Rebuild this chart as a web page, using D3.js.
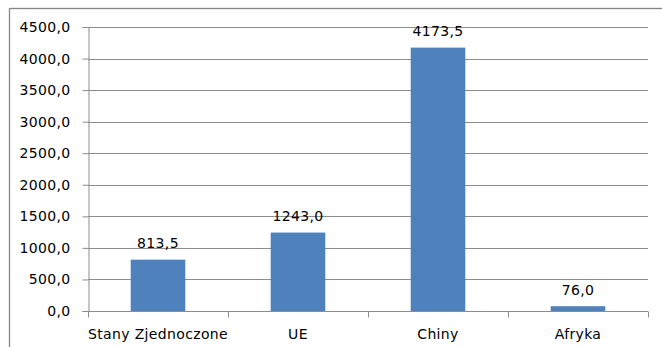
<!DOCTYPE html>
<html>
<head>
<meta charset="utf-8">
<script src="https://cdn.jsdelivr.net/npm/d3@7"></script>
<style>
  html, body { margin: 0; padding: 0; background: #fff; }
  svg { display: block; }
  text { font-family: "DejaVu Sans", Verdana, sans-serif; fill: #000; letter-spacing: 0.35px; }
</style>
</head>
<body>
<svg id="chart" width="662" height="347"></svg>
<script>
// Production by region
const categories = ["Stany Zjednoczone", "UE", "Chiny", "Afryka"];
const values = [813.5, 1243.0, 4173.5, 76.0];
const yTicks = [0, 500, 1000, 1500, 2000, 2500, 3000, 3500, 4000, 4500];

const fmt = v => d3.format(".1f")(v).replace(".", ",");

const svg = d3.select("#chart");
const plot = { left: 88, right: 648, top: 27, bottom: 311 };
const FS = 14;

// outer frame (cut at right and bottom edges)
svg.append("rect")
  .attr("x", 9.5).attr("y", 8.5)
  .attr("width", 700).attr("height", 400)
  .attr("fill", "none").attr("stroke", "#868686").attr("stroke-width", 1.3);

const x = d3.scaleBand().domain(categories).range([plot.left, plot.right]).paddingInner(0.61).paddingOuter(0.305);
const xCat = d3.scaleBand().domain(categories).range([plot.left, plot.right]);
const y = d3.scaleLinear().domain([0, 4500]).range([plot.bottom, plot.top]);

// horizontal gridlines
svg.append("g").selectAll("line").data(yTicks.filter(d => d > 0)).join("line")
  .attr("x1", plot.left).attr("x2", plot.right)
  .attr("y1", d => Math.round(y(d)) + 0.5).attr("y2", d => Math.round(y(d)) + 0.5)
  .attr("stroke", "#8c8c8c").attr("stroke-width", 1);

// y axis
const yAxis = svg.append("g")
  .attr("transform", `translate(${plot.left + 0.5},0)`)
  .call(d3.axisLeft(y).tickValues(yTicks).tickFormat(fmt).tickSize(6).tickPadding(12));
yAxis.select(".domain").attr("stroke", "#8c8c8c");
yAxis.selectAll(".tick line").attr("stroke", "#8c8c8c");
yAxis.selectAll("text").attr("font-size", FS).attr("fill", "#000")
  .attr("font-family", "DejaVu Sans, Verdana, sans-serif");

// x axis with tick marks at category boundaries
const xAxisG = svg.append("g").attr("transform", `translate(0,${Math.round(y(0)) + 0.5})`);
xAxisG.append("line").attr("x1", plot.left).attr("x2", plot.right).attr("stroke", "#8c8c8c");
const bounds = categories.map(c => xCat(c)).concat([plot.right]);
xAxisG.selectAll("line.tk").data(bounds).join("line").attr("class", "tk")
  .attr("x1", d => Math.round(d) + 0.5).attr("x2", d => Math.round(d) + 0.5)
  .attr("y1", 0).attr("y2", 6).attr("stroke", "#8c8c8c");
xAxisG.selectAll("text").data(categories).join("text")
  .attr("x", d => xCat(d) + xCat.bandwidth() / 2)
  .attr("y", 27)
  .attr("text-anchor", "middle")
  .attr("font-size", FS)
  .text(d => d);

// bars
svg.append("g").selectAll("rect").data(values).join("rect")
  .attr("x", (d, i) => x(categories[i]))
  .attr("width", x.bandwidth())
  .attr("y", d => y(d))
  .attr("height", d => y(0) - y(d))
  .attr("fill", "#4f81bd");

// value labels
svg.append("g").selectAll("text").data(values).join("text")
  .attr("x", (d, i) => x(categories[i]) + x.bandwidth() / 2)
  .attr("y", d => y(d) - 11.5)
  .attr("text-anchor", "middle")
  .attr("font-size", FS)
  .text(d => fmt(d));
</script>
</body>
</html>
